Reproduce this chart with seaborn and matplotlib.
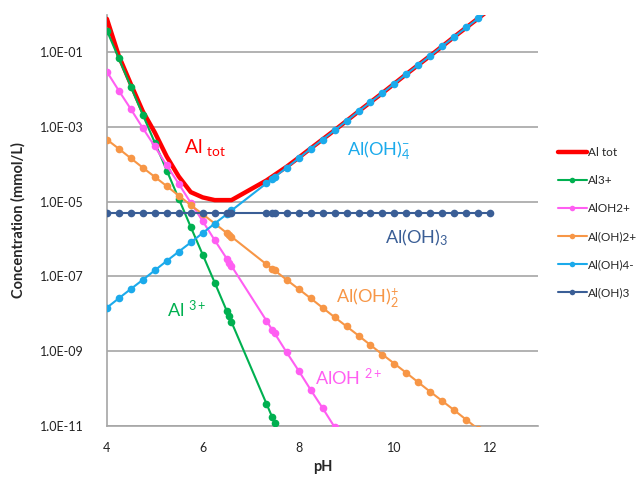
import numpy as np
import pandas as pd
import matplotlib
matplotlib.use("Agg")
import matplotlib.pyplot as plt
import seaborn as sns

sns.set_theme(style="white")
plt.rcParams["font.family"] = ["Lato", "DejaVu Sans"]
plt.rcParams["mathtext.fontset"] = "custom"
plt.rcParams["mathtext.rm"] = "Lato"
plt.rcParams["mathtext.it"] = "Lato:italic"
plt.rcParams["mathtext.bf"] = "Lato:bold"

nan = np.nan

# pH grid used by all series
ph = [4.0, 4.25, 4.5, 4.75, 5.0, 5.25, 5.5, 5.75, 6.0, 6.25, 6.5, 6.55, 6.6,
      7.33, 7.45, 7.5, 7.75, 8.0, 8.25, 8.5, 8.75, 9.0, 9.25, 9.5, 9.75,
      10.0, 10.25, 10.5, 10.75, 11.0, 11.25, 11.5, 11.75, 12.0]

# concentrations (mmol/L)
al_tot = [7.8e-1, 7.9e-2, 1.4e-2, 2.6e-3, 7.1e-4, 1.6e-4, 4.7e-5, 1.8e-5, 1.3e-5,
          1.1e-5, 1.1e-5, 1.1e-5, 1.1e-5, 3.7e-5, 4.7e-5, 5.2e-5, 8.6e-5, 1.5e-4,
          2.65e-4, 4.65e-4, 8.15e-4, 1.45e-3, 2.6e-3, 4.6e-3, 8.1e-3, 1.45e-2,
          2.6e-2, 4.6e-2, 8.1e-2, 1.45e-1, 2.6e-1, 4.6e-1, 8.1e-1, 1.45]
al3 = [3.8e-1, 6.8e-2, 1.2e-2, 2.1e-3, 3.8e-4, 6.8e-5, 1.2e-5, 2.1e-6, 3.8e-7,
       6.8e-8, 1.2e-8, 8.5e-9, 6.0e-9, 3.9e-11, 1.7e-11, 1.2e-11, nan, nan,
       nan, nan, nan, nan, nan, nan, nan, nan, nan, nan, nan, nan, nan, nan, nan, nan]
aloh2 = [3.0e-2, 9.3e-3, 3.0e-3, 9.3e-4, 3.0e-4, 9.3e-5, 3.0e-5, 9.3e-6, 3.0e-6,
         9.3e-7, 3.0e-7, 2.3e-7, 1.9e-7, 6.5e-9, 3.7e-9, 3.0e-9, 9.3e-10, 3.0e-10,
         9.3e-11, 3.0e-11, 9.3e-12, nan, nan, nan, nan, nan, nan, nan, nan, nan,
         nan, nan, nan, nan]
aloh2p = [4.6e-4, 2.6e-4, 1.45e-4, 8.1e-5, 4.6e-5, 2.6e-5, 1.45e-5, 8.1e-6, 4.6e-6,
          2.6e-6, 1.45e-6, 1.3e-6, 1.15e-6, 2.1e-7, 1.6e-7, 1.45e-7, 8.1e-8, 4.6e-8,
          2.6e-8, 1.45e-8, 8.1e-9, 4.6e-9, 2.6e-9, 1.45e-9, 8.1e-10, 4.6e-10,
          2.6e-10, 1.45e-10, 8.1e-11, 4.6e-11, 2.6e-11, 1.45e-11, 8.1e-12, nan]
aloh4 = [1.45e-8, 2.6e-8, 4.6e-8, 8.1e-8, 1.45e-7, 2.6e-7, 4.6e-7, 8.1e-7, 1.45e-6,
         2.6e-6, 4.6e-6, 5.1e-6, 5.8e-6, 3.1e-5, 4.1e-5, 4.6e-5, 8.1e-5, 1.45e-4,
         2.6e-4, 4.6e-4, 8.1e-4, 1.45e-3, 2.6e-3, 4.6e-3, 8.1e-3, 1.45e-2, 2.6e-2,
         4.6e-2, 8.1e-2, 1.45e-1, 2.6e-1, 4.6e-1, 8.1e-1, 1.45]
aloh3 = [4.9e-6] * len(ph)

series_names = ["Al tot", "Al3+", "AlOH2+", "Al(OH)2+", "Al(OH)4-", "Al(OH)3"]
series_vals = [al_tot, al3, aloh2, aloh2p, aloh4, aloh3]
colors = ["#FF0000", "#00B050", "#FF5EF2", "#F79646", "#1BAAEB", "#3A5E96"]

ytick_vals = [1e-11, 1e-9, 1e-7, 1e-5, 1e-3, 1e-1]
ytick_labels = ["1.0E-11", "1.0E-09", "1.0E-07", "1.0E-05", "1.0E-03", "1.0E-01"]
xtick_vals = [4, 6, 8, 10, 12]

fig = plt.figure(figsize=(6.4, 4.79), dpi=100)
ax = fig.add_axes([0.167, 0.111, 0.674, 0.858])

handles = []
for name, vals, col in zip(series_names, series_vals, colors):
    df = pd.DataFrame({"pH": ph, "c": vals})
    if name == "Al tot":
        sns.lineplot(data=df, x="pH", y="c", ax=ax, color=col, linewidth=3.2,
                     zorder=3)
    else:
        sns.lineplot(data=df, x="pH", y="c", ax=ax, color=col, linewidth=1.5,
                     marker="o", markersize=5.5, markeredgewidth=0, zorder=4)
    handles.append(ax.lines[-1])

ax.set_yscale("log")
ax.set_ylim(1e-11, 1)
ax.set_xlim(4, 13)
ax.set_yticks(ytick_vals)
ax.set_yticklabels(ytick_labels)
ax.yaxis.set_minor_locator(matplotlib.ticker.NullLocator())
ax.set_xticks(xtick_vals)
ax.set_xticklabels([str(v) for v in xtick_vals])

ax.grid(axis="y", color="#A6A6A6", linewidth=1.2)
ax.grid(axis="x", visible=False)
for s in ["top", "right"]:
    ax.spines[s].set_visible(False)
for s in ["left", "bottom"]:
    ax.spines[s].set_color("#A6A6A6")
    ax.spines[s].set_linewidth(1.2)
ax.tick_params(axis="both", which="major", direction="out", length=5,
               width=1.2, color="#A6A6A6", labelsize=9, labelcolor="#222222")
ax.tick_params(axis="y", pad=12)
ax.tick_params(axis="x", pad=7)

ax.set_xlabel("pH", fontsize=10.5, fontweight="bold", labelpad=4)
ax.set_ylabel("Concentration (mmol/L)", fontsize=10.5, fontweight="bold", labelpad=10)

# in-plot species labels
ax.text(5.6, 2.8e-4, r"Al $_{\rm tot}$", color="#FF0000", fontsize=14, va="center")
ax.text(9.0, 2.3e-4, r"Al(OH)$_4^{-}$", color="#1BAAEB", fontsize=13, va="center")
ax.text(9.8, 1.1e-6, r"Al(OH)$_3$", color="#3A5E96", fontsize=13, va="center")
ax.text(8.78, 2.6e-8, r"Al(OH)$_2^{+}$", color="#F79646", fontsize=13, va="center")
ax.text(8.35, 2.0e-10, r"AlOH $^{2+}$", color="#FF5EF2", fontsize=13, va="center")
ax.text(5.25, 1.3e-8, r"Al $^{3+}$", color="#00B050", fontsize=13, va="center")

leg = fig.legend(handles, series_names, loc="upper left",
                 bbox_to_anchor=(0.865, 0.703), frameon=False, fontsize=8.5,
                 handlelength=2.4, handletextpad=0.1, labelspacing=1.45,
                 borderaxespad=0)
for h in leg.legend_handles:
    h.set_markersize(4)

fig.savefig("out.png", dpi=100)
